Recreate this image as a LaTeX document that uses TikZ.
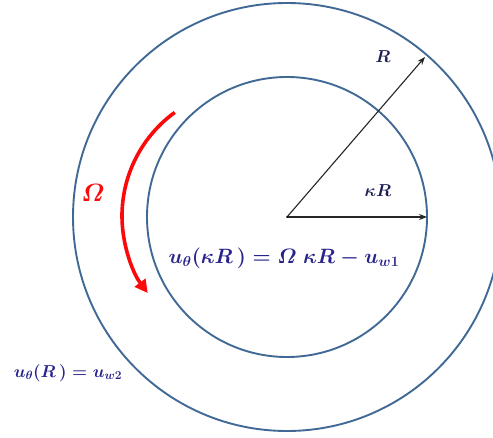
\documentclass[tikz,border=0pt]{standalone}
\usepackage{amsmath}
\usetikzlibrary{arrows.meta,calc}
\definecolor{ringblue}{RGB}{65,105,150}
\definecolor{eqnavy}{RGB}{40,36,140}
\definecolor{lblnavy}{RGB}{30,30,85}
\definecolor{arrred}{RGB}{250,10,10}
\tikzset{
  ring/.style={draw=ringblue, line width=1.9pt},
  radius arrow/.style={draw=black!85, line width=1.1pt, -{Stealth[length=8pt,width=6pt]}},
  eqtext/.style={text=eqnavy, font=\boldmath\fontsize{20}{22}\selectfont, inner sep=0pt},
  lbltext/.style={text=lblnavy, font=\boldmath\fontsize{19}{21}\selectfont, inner sep=0pt},
  spin/.style={draw=arrred, line width=3.6pt, -{Triangle[length=13pt,width=13pt]}}
}
\begin{document}
\begin{tikzpicture}[x=1pt,y=1pt]
\useasboundingbox[fill=white] (0,0) rectangle (493,437);
\coordinate (O) at (287,220);
\draw[ring] (O) circle[radius=214];
\draw[ring] (O) circle[radius=140];
\coordinate (Rtip) at (425,380);
\coordinate (kRtip) at (427,220);
\draw[radius arrow] (O) -- (Rtip);
\draw[radius arrow] (O) -- (kRtip);
\fill[black] (O) circle[radius=1pt];
\node[lbltext] (Rlbl) at (383,380) {$R$};
\node[lbltext] (kRlbl) at (378,246) {$\kappa R$};
\node[eqtext] (eqin) at (284,179) {$u_{\theta}(\kappa R\,) = \varOmega\;\kappa R - u_{w1}$};
\node[eqtext, font=\boldmath\fontsize{17}{19}\selectfont] (eqout) at (68,64) {$u_{\theta}(R\,) = u_{w2}$};
\coordinate (Sc) at (250,221);
\coordinate (Sstart) at ($(Sc)+(126:128)$);
\draw[spin] (Sstart) arc[start angle=126, end angle=217, radius=128];
\node[text=arrred, font=\boldmath\fontsize{27}{29}\selectfont, inner sep=0pt] (Om) at (93,244) {$\varOmega$};
\end{tikzpicture}
\end{document}
